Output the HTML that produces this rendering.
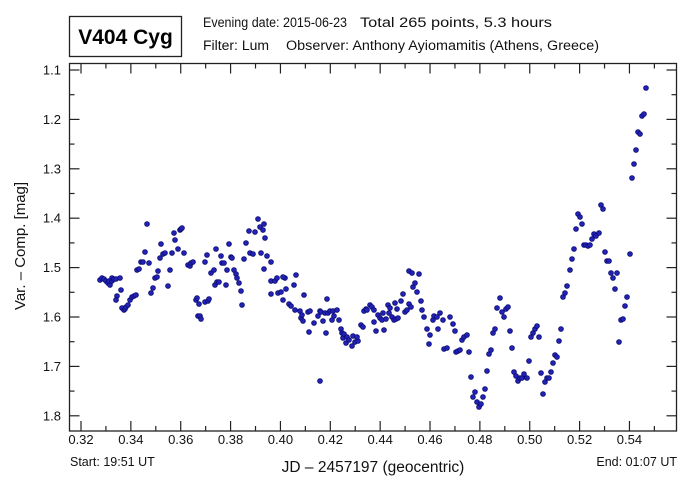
<!DOCTYPE html>
<html><head><meta charset="utf-8"><style>
html,body{margin:0;padding:0;background:#fff;}
svg{display:block;font-family:"Liberation Sans",Arial,sans-serif;}
</style></head><body>
<svg id="s" width="700" height="489" viewBox="0 0 700 489" xmlns="http://www.w3.org/2000/svg">
<rect x="0" y="0" width="700" height="489" fill="#fff"/>
<rect x="69.5" y="16.5" width="112" height="40" fill="#fff" stroke="#222" stroke-width="1.3"/>
<text x="125.5" y="44" font-size="21" font-weight="bold" text-anchor="middle" fill="#000">V404 Cyg</text>
<text x="203" y="27" font-size="13.5" fill="#111" textLength="144" lengthAdjust="spacingAndGlyphs">Evening date: 2015-06-23</text>
<text x="360" y="27" font-size="13.5" fill="#111" textLength="192" lengthAdjust="spacingAndGlyphs">Total 265 points, 5.3 hours</text>
<text x="203" y="50" font-size="13.5" fill="#111" textLength="66" lengthAdjust="spacingAndGlyphs">Filter: Lum</text>
<text x="286" y="50" font-size="13.5" fill="#111" textLength="313" lengthAdjust="spacingAndGlyphs">Observer: Anthony Ayiomamitis (Athens, Greece)</text>
<rect x="69.5" y="63.5" width="607" height="367.5" fill="none" stroke="#222" stroke-width="1.3"/>
<g id="ticks" stroke="#222" stroke-width="1.2"></g>
<g id="lab" font-size="13" fill="#111"></g>
<text x="70" y="466" font-size="12.5" fill="#111">Start: 19:51 UT</text>
<text x="677" y="466" font-size="12.5" fill="#111" text-anchor="end">End: 01:07 UT</text>
<text x="373" y="472" font-size="15.5" fill="#111" text-anchor="middle">JD – 2457197  (geocentric)</text>
<text transform="translate(25,246) rotate(-90)" font-size="15" fill="#111" text-anchor="middle">Var. – Comp. [mag]</text>
<g id="pts" fill="#2222b4" stroke="#0a0a70" stroke-width="0.8"></g>
</svg>
<script>
var NS="http://www.w3.org/2000/svg";
function el(p,n,a,t){var e=document.createElementNS(NS,n);for(var k in a)e.setAttribute(k,a[k]);if(t)e.textContent=t;document.getElementById(p).appendChild(e);}
function X(v){return 81+(v-0.32)*2493;}
function Y(v){return 70+(v-1.1)*494;}
for(var i=0;i<=23;i++){var v=0.32+i*0.01,x=X(v),maj=i%2==0,L=maj?10:5;
 el("ticks","line",{x1:x,y1:431,x2:x,y2:431-L});
 el("ticks","line",{x1:x,y1:63.5,x2:x,y2:63.5+L});
 if(maj)el("lab","text",{x:x,y:444,"text-anchor":"middle"},v.toFixed(2));}
for(var i=0;i<=14;i++){var v=1.1+i*0.05,y=Y(v),maj=i%2==0,L=maj?10:5;
 el("ticks","line",{x1:69.5,y1:y,x2:69.5+L,y2:y});
 el("ticks","line",{x1:676.5,y1:y,x2:676.5-L,y2:y});
 if(maj)el("lab","text",{x:61,y:y+4.5,"text-anchor":"end"},v.toFixed(1));}
var P=[100,280,102,278,104,279,106,281,108,283,110,285,109,281,112,281,112,278,114,279,116,279,117,296,120,278,121,290,116,300,122,308,124,310,125,309,126,307,128,305,130,300,132,297,134,296,136,295,137,270,139,269,141,262,143,262,145,252,147,224,149,263,151,293,153,288,155,278,157,277,158,271,160,258,161,244,163,254,165,253,168,286,170,270,172,253,174,233,175,240,178,249,180,230,181,229,182,228,184,253,188,265,190,266,191,263,193,262,196,300,197,298,198,316,199,304,200,316,201,319,205,302,208,301,209,299,205,262,207,255,211,273,214,270,215,285,216,249,217,282,219,282,221,256,222,263,224,263,226,285,227,270,229,244,231,257,232,258,234,270,236,274,237,278,239,283,241,291,242,305,244,259,246,243,249,231,250,253,253,254,255,232,258,219,260,227,261,253,263,230,264,224,265,238,267,256,264,269,271,262,271,281,271,294,275,281,277,278,285,278,283,300,278,293,281,292,283,277,286,289,289,304,291,306,295,310,294,285,296,275,300,311,301,318,302,315,304,295,303,321,308,312,310,311,309,332,314,323,318,316,320,311,320,381,321,312,323,321,325,313,326,333,327,299,328,313,330,311,332,320,333,311,334,316,337,310,339,320,341,329,342,333,343,338,344,334,346,343,347,337,349,340,352,346,353,336,355,342,358,341,357,337,361,325,363,327,364,311,366,309,367,310,370,305,372,307,374,310,374,322,376,331,378,315,380,318,382,320,383,313,384,330,386,319,388,305,389,313,390,308,392,317,394,320,395,303,396,319,397,309,398,318,401,301,403,294,405,312,407,310,409,304,411,307,409,271,412,273,413,287,415,283,417,292,419,274,421,301,422,310,424,317,427,329,429,344,430,335,433,320,434,316,437,317,440,313,438,329,443,320,444,349,447,348,450,317,453,324,455,331,456,352,458,351,460,350,462,340,464,337,467,335,469,352,471,377,473,397,475,392,477,402,479,407,481,404,483,397,485,389,487,371,489,354,491,350,493,333,495,329,497,308,500,298,502,312,504,317,506,309,508,307,510,331,512,348,514,372,516,376,518,381,520,378,522,378,524,374,527,378,529,361,531,337,533,333,535,329,537,326,539,337,541,373,543,394,545,382,547,378,549,378,551,372,553,363,555,355,557,357,559,341,561,329,563,297,565,293,567,286,570,270,572,259,574,249,576,229,578,214,580,217,582,224,584,245,586,245,588,246,590,245,592,239,594,234,596,236,599,233,601,205,603,209,605,252,607,261,609,261,611,273,613,278,615,289,617,273,619,342,621,320,623,319,625,306,627,297,630,254,632,178,634,164,636,150,638,132,640,134,642,116,644,114,646,88];
for(var i=0;i<P.length;i+=2)el("pts","circle",{cx:P[i],cy:P[i+1],r:2.4});
</script>
</body></html>
